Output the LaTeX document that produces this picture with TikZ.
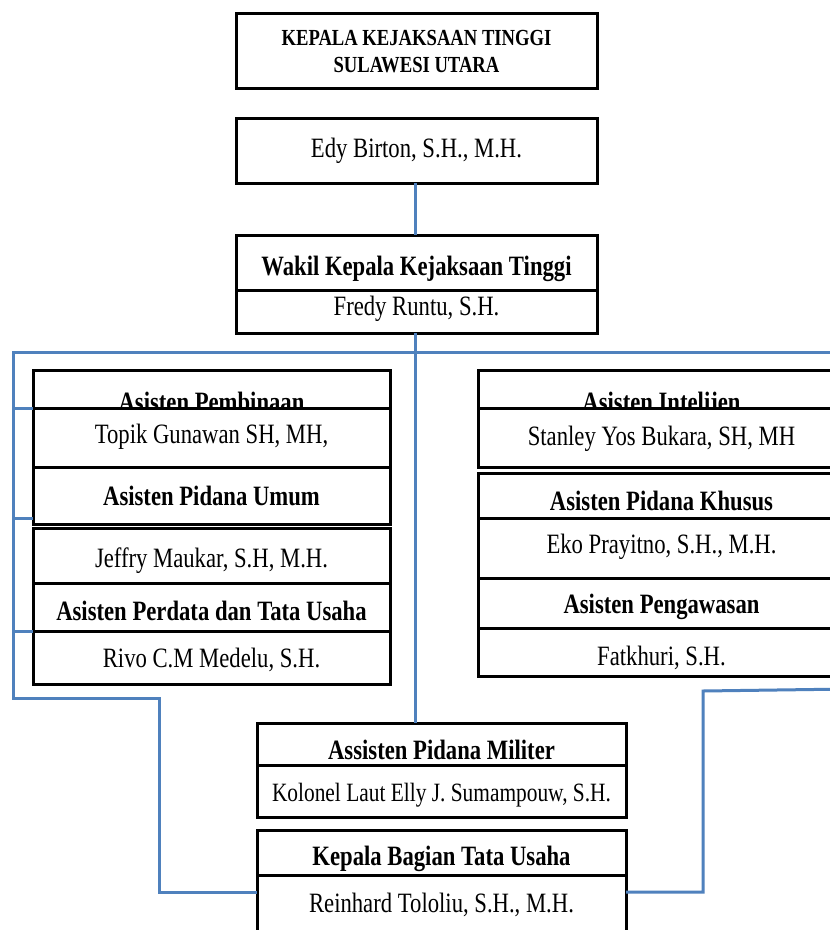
\documentclass[tikz,border=0pt]{standalone}
\usepackage{fontspec}
\setmainfont{Liberation Serif}[FakeStretch=0.81]
\usetikzlibrary{calc}
\definecolor{conblue}{RGB}{79,129,189}
\tikzset{
  orgframe/.style={draw=black, line width=3pt, fill=white, inner sep=0pt, outer sep=0pt, rectangle},
  orgtext/.style={anchor=base, inner sep=0pt, outer sep=0pt, font=\fontsize{28}{32}\selectfont},
  link/.style={draw=conblue, line width=3pt, line join=miter},
}
\newcommand\orgbox[7]{%
  \node[orgframe, minimum width={#4-#2}, minimum height={#5-#3}] (#1) at ({(#2+#4)/2},{(#3+#5)/2}) {};
  \node[orgtext] (#1-t) at ({(#2+#4)/2},#6) {#7};
}
\begin{document}
\begin{tikzpicture}[x=1pt,y=-1pt]
\useasboundingbox[fill=white] (0,0) rectangle (830,930);
% top
\orgbox{kepala}{236}{13}{597}{88}{45}{\fontsize{23}{27}\selectfont\bfseries KEPALA KEJAKSAAN TINGGI}
\node[orgtext] (kepala-t2) at (416.5,72) {\fontsize{23}{27}\selectfont\bfseries SULAWESI UTARA};
\orgbox{edy}{236}{118}{597}{183}{157}{Edy Birton, S.H., M.H.}
\orgbox{wakilT}{236}{235}{597}{290}{275}{\bfseries Wakil Kepala Kejaksaan Tinggi}
\orgbox{fredy}{236}{290}{597}{333}{315}{Fredy Runtu, S.H.}
% left column
\orgbox{pemT}{33}{370}{390}{408}{411}{\bfseries Asisten Pembinaan}
\orgbox{topik}{33}{408}{390}{467}{443}{Topik Gunawan SH, MH,}
\orgbox{umumT}{33}{467}{390}{524.5}{505}{\bfseries Asisten Pidana Umum}
\orgbox{jeffry}{33}{528.5}{390}{583}{567}{Jeffry Maukar, S.H, M.H.}
\orgbox{perdT}{33}{583}{390}{631}{620}{\bfseries Asisten Perdata dan Tata Usaha}
\orgbox{rivo}{33}{631}{390}{684}{667}{Rivo C.M Medelu, S.H.}
% right column
\orgbox{intT}{478}{370}{845}{408}{411}{\bfseries Asisten Intelijen}
\orgbox{stanley}{478}{408}{845}{467}{445}{Stanley Yos Bukara, SH, MH}
\orgbox{khususT}{478}{473}{845}{518}{510}{\bfseries Asisten Pidana Khusus}
\orgbox{eko}{478}{518}{845}{578}{553}{Eko Prayitno, S.H., M.H.}
\orgbox{pengT}{478}{578}{845}{628}{613}{\bfseries Asisten Pengawasan}
\orgbox{fat}{478}{628}{845}{676}{665}{Fatkhuri, S.H.}
% bottom
\orgbox{milT}{257}{723}{626}{765}{759}{\bfseries Assisten Pidana Militer}
\orgbox{kolonel}{257}{765}{626}{817}{801}{\fontsize{26.4}{30}\selectfont Kolonel Laut Elly J. Sumampouw, S.H.}
\orgbox{kabagT}{257}{830}{626}{875}{865}{\bfseries Kepala Bagian Tata Usaha}
\orgbox{kabagN}{257}{875}{626}{950}{912}{Reinhard Tololiu, S.H., M.H.}
% connectors
\coordinate (trunk) at (415,352);
\coordinate (lc) at (13,352);
\coordinate (rc) at (850,352);
\coordinate (lb) at (13,698);
\coordinate (lm) at (159,698);
\coordinate (lk) at (159,892);
\coordinate (re) at (850,689);
\coordinate (rm) at (703,691);
\coordinate (rk) at (703,892);
\coordinate (t2) at (13,518);
\draw[link] (edy.south -| trunk) -- (wakilT.north -| trunk);
\draw[link] (fredy.south -| trunk) -- (milT.north -| trunk);
\draw[link] (rc) -- (lc) -- (lb) -- (lm) -- (lk) -- (lk -| kabagN.west);
\draw[link] (re) -- (rm) -- (rk) -- (rk -| kabagN.east);
\draw[link] (lc |- topik.north) -- (topik.north west);
\draw[link] (t2) -- (t2 -| umumT.west);
\draw[link] (lc |- rivo.north) -- (rivo.north west);
\end{tikzpicture}
\end{document}
